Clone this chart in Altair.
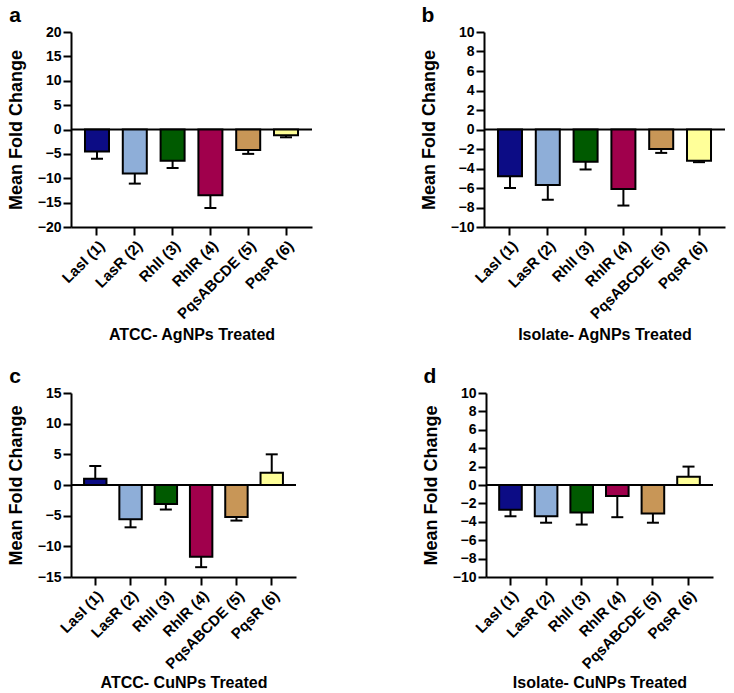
import altair as alt
import pandas as pd

# Quorum-sensing genes and their bar colours
genes = ["LasI (1)", "LasR (2)", "RhlI (3)", "RhlR (4)", "PqsABCDE (5)", "PqsR (6)"]
colors = ["#0c0c85", "#8eaed8", "#005a00", "#a0004c", "#c89657", "#ffff99"]

# Mean fold change and SD for each treatment
atcc_ag_mean = [-4.5, -9.0, -6.4, -13.5, -4.2, -1.2]
atcc_ag_sd = [1.5, 2.1, 1.5, 2.6, 0.8, 0.4]

iso_ag_mean = [-4.8, -5.7, -3.3, -6.1, -2.0, -3.2]
iso_ag_sd = [1.2, 1.5, 0.8, 1.7, 0.4, 0.15]

atcc_cu_mean = [1.0, -5.6, -3.1, -11.7, -5.2, 2.0]
atcc_cu_sd = [2.1, 1.3, 0.9, 1.7, 0.6, 3.0]

iso_cu_mean = [-2.7, -3.4, -3.0, -1.2, -3.1, 0.9]
iso_cu_sd = [0.7, 0.7, 1.3, 2.3, 1.0, 1.1]

FONT = "Liberation Sans"
YTITLE = "Mean Fold Change"


def panel(letter, mean, sd, lo, hi, step, xtitle, w, h, xpad):
    # error bars point away from zero
    ends = [m + s if m >= 0 else m - s for m, s in zip(mean, sd)]
    df = pd.DataFrame({"gene": genes, "mean": mean, "end": ends})
    ticks = list(range(lo, hi + 1, step))

    xscale = alt.Scale(domain=genes, paddingInner=0.365, paddingOuter=0.37)
    yscale = alt.Scale(domain=[lo, hi], nice=False, zero=False)

    xenc = alt.X("gene:N", sort=genes, scale=xscale, title=xtitle,
                 axis=alt.Axis(labelAngle=-45, labelFontSize=15, titleFontSize=16,
                               labelPadding=3, titlePadding=xpad))

    base = alt.Chart(df)

    zero = alt.Chart(pd.DataFrame({"z": [0]})).mark_rule(
        color="black", strokeWidth=2
    ).encode(y=alt.Y("z:Q", scale=yscale, title=YTITLE))

    err = base.mark_rule(color="black", strokeWidth=2).encode(
        x=xenc,
        y=alt.Y("mean:Q", scale=yscale, title=YTITLE),
        y2="end:Q",
    )
    cap = base.mark_tick(color="black", thickness=2, size=12, opacity=1).encode(
        x=xenc,
        y=alt.Y("end:Q", scale=yscale, title=YTITLE),
    )
    bars = base.mark_bar(stroke="black", strokeWidth=2, opacity=1).encode(
        x=xenc,
        y=alt.Y("mean:Q", scale=yscale, title=YTITLE,
                axis=alt.Axis(values=ticks, tickCount=len(ticks), labelOverlap=False,
                              labelFontSize=14, titleFontSize=18,
                              titlePadding=12, labelPadding=2)),
        color=alt.Color("gene:N", scale=alt.Scale(domain=genes, range=colors), legend=None),
    )
    tag = alt.Chart(pd.DataFrame({"t": [letter]})).mark_text(
        font=FONT, fontSize=21, fontWeight="bold", align="center",
        baseline="alphabetic", color="black"
    ).encode(x=alt.value(-56), y=alt.value(-10), text="t:N")

    return alt.layer(zero, err, cap, bars, tag).properties(width=w, height=h)


a = panel("a", atcc_ag_mean, atcc_ag_sd, -20, 20, 5, "ATCC- AgNPs Treated", 241, 195, 5)
b = panel("b", iso_ag_mean, iso_ag_sd, -10, 10, 2, "Isolate- AgNPs Treated", 241, 195, 5)
c = panel("c", atcc_cu_mean, atcc_cu_sd, -15, 15, 5, "ATCC- CuNPs Treated", 225, 184, 3)
d = panel("d", iso_cu_mean, iso_cu_sd, -10, 10, 2, "Isolate- CuNPs Treated", 227, 184, 3)

chart = alt.vconcat(
    alt.hconcat(a, b, spacing=107),
    alt.hconcat(c, d, spacing=125),
    spacing=23,
).configure(
    font=FONT,
    background="white",
).configure_view(
    stroke=None
).configure_axis(
    grid=False,
    domainColor="black",
    domainWidth=2,
    tickColor="black",
    tickWidth=2,
    tickSize=8,
    labelFont=FONT,
    labelFontWeight="bold",
    labelColor="black",
    titleFont=FONT,
    titleFontWeight="bold",
    titleColor="black",
).properties(padding={"left": 7, "top": 5, "right": 5, "bottom": 5})

chart.save("out.html", embed_options={"renderer": "svg", "actions": False})
